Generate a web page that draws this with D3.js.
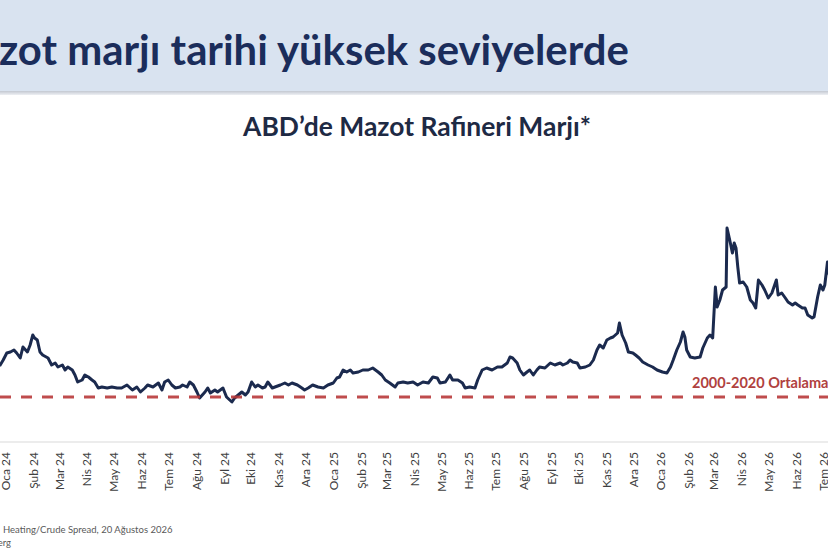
<!DOCTYPE html>
<html>
<head>
<meta charset="utf-8">
<script src="https://cdn.jsdelivr.net/npm/d3@7"></script>
<style>
  html, body { margin: 0; padding: 0; background: #fff; overflow: hidden; }
  svg { display: block; }
</style>
</head>
<body>
<div id="chart"></div>
<script>
// month labels for the x axis (Turkish)
const monthNames = ["Oca", "Şub", "Mar", "Nis", "May", "Haz", "Tem", "Ağu", "Eyl", "Eki", "Kas", "Ara"];

// 2000-2020 average, $/bbl
const averageValue = 24;

// diesel refinery margin
const dates = [
  "2023-12-26","2023-12-30","2024-01-03","2024-01-07","2024-01-11","2024-01-14","2024-01-18","2024-01-21","2024-01-26","2024-01-29",
  "2024-02-01","2024-02-03","2024-02-06","2024-02-09","2024-02-12","2024-02-18","2024-02-22","2024-02-26","2024-02-29","2024-03-05",
  "2024-03-08","2024-03-11","2024-03-16","2024-03-19","2024-03-22","2024-03-27","2024-03-30","2024-04-03","2024-04-07","2024-04-10",
  "2024-04-14","2024-04-18","2024-04-24","2024-04-29","2024-05-05","2024-05-10","2024-05-16","2024-05-22","2024-05-27","2024-05-31",
  "2024-06-05","2024-06-08","2024-06-14","2024-06-20","2024-06-24","2024-06-27","2024-07-01","2024-07-05","2024-07-09","2024-07-14",
  "2024-07-17","2024-07-22","2024-07-25","2024-07-29","2024-08-02","2024-08-05","2024-08-11","2024-08-14","2024-08-17","2024-08-22",
  "2024-08-25","2024-08-31","2024-09-04","2024-09-10","2024-09-13","2024-09-17","2024-09-21","2024-09-25","2024-09-28","2024-10-02",
  "2024-10-06","2024-10-09","2024-10-14","2024-10-17","2024-10-20","2024-10-25","2024-10-28","2024-11-03","2024-11-08","2024-11-12",
  "2024-11-16","2024-11-22","2024-11-27","2024-11-30","2024-12-04","2024-12-09","2024-12-15","2024-12-21","2024-12-26","2025-01-01",
  "2025-01-05","2025-01-08","2025-01-12","2025-01-16","2025-01-20","2025-01-23","2025-01-29","2025-02-03","2025-02-09","2025-02-14",
  "2025-02-20","2025-02-24","2025-02-28","2025-03-05","2025-03-11","2025-03-14","2025-03-20","2025-03-25","2025-03-31","2025-04-05",
  "2025-04-11","2025-04-17","2025-04-22","2025-04-27","2025-04-30","2025-05-06","2025-05-11","2025-05-14","2025-05-20","2025-05-25",
  "2025-05-28","2025-06-02","2025-06-08","2025-06-11","2025-06-16","2025-06-21","2025-06-27","2025-07-03","2025-07-08","2025-07-14",
  "2025-07-17","2025-07-20","2025-07-25","2025-07-28","2025-08-01","2025-08-05","2025-08-08","2025-08-12","2025-08-16","2025-08-19",
  "2025-08-25","2025-08-31","2025-09-05","2025-09-11","2025-09-14","2025-09-19","2025-09-22","2025-09-25","2025-09-30","2025-10-03",
  "2025-10-09","2025-10-14","2025-10-18","2025-10-22","2025-10-25","2025-10-29","2025-11-02","2025-11-06","2025-11-09","2025-11-14",
  "2025-11-16","2025-11-19","2025-11-23","2025-11-26","2025-12-01","2025-12-04","2025-12-08","2025-12-12","2025-12-18","2025-12-23",
  "2025-12-28","2026-01-03","2026-01-08","2026-01-12","2026-01-15","2026-01-19","2026-01-23","2026-01-26","2026-01-28","2026-01-30",
  "2026-02-03","2026-02-08","2026-02-14","2026-02-17","2026-02-22","2026-02-25","2026-02-28","2026-03-03","2026-03-05","2026-03-08",
  "2026-03-11","2026-03-15","2026-03-16","2026-03-19","2026-03-22","2026-03-24","2026-03-26","2026-03-28","2026-03-30","2026-04-03",
  "2026-04-07","2026-04-11","2026-04-14","2026-04-17","2026-04-20","2026-04-24","2026-04-27","2026-05-01","2026-05-05","2026-05-10",
  "2026-05-12","2026-05-16","2026-05-20","2026-05-23","2026-05-28","2026-05-31","2026-06-03","2026-06-08","2026-06-11","2026-06-14",
  "2026-06-19","2026-06-21","2026-06-25","2026-06-28","2026-07-01","2026-07-03","2026-07-06","2026-07-08"
];
const margins = [
  30.2,31.4,32.8,33.0,33.4,32.8,31.8,34.0,33.0,34.4,
  36.4,35.8,35.4,33.0,32.4,31.8,30.4,30.8,30.0,30.4,
  29.4,30.0,29.4,28.4,27.0,27.4,28.4,28.0,27.4,27.0,
  25.8,26.0,25.8,26.0,25.8,25.8,26.4,25.4,26.0,25.0,
  25.8,26.4,26.0,26.8,25.4,27.0,27.4,26.4,25.8,26.0,
  26.4,26.0,27.0,26.4,25.0,23.8,25.0,25.8,24.8,25.4,
  25.0,25.8,24.0,23.0,23.8,24.4,25.0,24.4,25.0,27.0,
  26.0,26.4,25.8,26.0,27.0,25.8,26.0,26.4,26.8,26.4,
  26.8,26.4,25.8,25.4,25.8,26.4,26.0,25.8,26.4,26.8,
  27.8,28.0,29.4,29.0,29.4,28.8,29.0,29.4,29.4,29.8,
  29.0,28.4,27.4,26.8,26.0,26.8,27.0,26.8,27.0,26.4,
  27.0,26.8,28.0,27.8,26.8,27.0,28.4,27.4,27.4,26.8,
  25.8,26.0,25.8,27.4,29.4,29.8,29.4,30.0,30.0,30.8,
  32.0,31.8,30.8,29.4,28.4,29.0,29.4,28.4,29.4,30.0,
  29.8,30.8,30.4,30.8,30.4,30.8,31.4,31.0,30.8,29.8,
  30.0,30.4,31.4,33.4,34.4,33.8,35.4,35.8,36.0,36.8,
  38.8,36.4,34.8,33.0,32.8,32.4,31.8,31.0,30.4,30.0,
  29.4,29.0,28.8,30.0,31.4,33.4,35.0,37.0,36.0,33.4,
  32.0,31.8,32.0,33.8,35.8,36.4,35.8,46.0,42.0,43.4,
  45.4,46.0,57.8,55.4,52.8,54.8,53.8,50.0,46.8,47.0,
  46.0,43.4,42.8,41.8,47.4,46.4,45.4,43.8,44.8,47.4,
  44.4,44.8,43.8,43.0,42.4,42.8,42.4,41.8,41.8,40.4,
  39.8,40.0,44.0,46.4,45.4,46.4,51.0,48.4
];

const W = 828, H = 552;
const parseDate = d3.timeParse("%Y-%m-%d");
const data = dates.map((d, i) => ({date: parseDate(d), value: margins[i]}));
const font = "Lato, 'Open Sans', sans-serif";

const svg = d3.select("#chart")
    .append("svg")
        .attr("width", W)
        .attr("height", H);

// title band
const grad = svg.append("defs").append("linearGradient")
    .attr("id", "shadow")
    .attr("x1", 0).attr("y1", 0).attr("x2", 0).attr("y2", 1);
grad.append("stop").attr("offset", "0%").attr("stop-color", "#c3c8d1");
grad.append("stop").attr("offset", "100%").attr("stop-color", "#eef0f4");

svg.append("rect")
    .attr("x", 0).attr("y", 0)
    .attr("width", W).attr("height", 91)
    .attr("fill", "#d9e3f0");
svg.append("rect")
    .attr("x", 0).attr("y", 91)
    .attr("width", W).attr("height", 4)
    .attr("fill", "url(#shadow)");

// slide title, left part is cut off like in the slide
const title = svg.append("text")
    .attr("y", 65)
    .attr("font-family", font)
    .attr("font-weight", "bold")
    .attr("font-size", 38)
    .attr("fill", "#1b2d5b")
    .text("Mazot marjı tarihi yüksek seviyelerde");
{
    const node = title.node();
    const visible = node.getSubStringLength(2, node.getNumberOfChars() - 2);
    title.attr("font-size", 38 * 630 / visible);
    const cut = node.getSubStringLength(0, 2);
    title.attr("x", -cut - 1);
}

// chart title
const sub = svg.append("text")
    .attr("x", 417)
    .attr("y", 136)
    .attr("text-anchor", "middle")
    .attr("font-family", font)
    .attr("font-weight", "bold")
    .attr("font-size", 21)
    .attr("fill", "#1e2a44")
    .text("ABD’de Mazot Rafineri Marjı*");
{
    const w = sub.node().getComputedTextLength();
    sub.attr("font-size", 21 * 348 / w);
}

// scales
const x = d3.scaleTime()
    .domain([parseDate("2024-01-01"), parseDate("2026-07-01")])
    .range([5, 823]);

const y = d3.scaleLinear()
    .domain([15, 75])
    .range([442, 142]);

// x axis
const ticks = d3.timeMonth.range(parseDate("2024-01-01"), parseDate("2026-07-02"));
const xAxis = svg.append("g")
    .attr("transform", `translate(0, ${y(15)})`)
    .call(d3.axisBottom(x)
        .tickValues(ticks)
        .tickSize(0)
        .tickFormat(d => monthNames[d.getMonth()] + " " + String(d.getFullYear()).slice(2)));

xAxis.select(".domain").remove();
xAxis.append("line")
    .attr("x1", 0).attr("x2", W)
    .attr("stroke", "#d9d9d9")
    .attr("stroke-width", 1.2);

xAxis.selectAll("text")
    .attr("transform", "rotate(-90)")
    .attr("x", -10)
    .attr("y", 0)
    .attr("dy", "0.35em")
    .style("text-anchor", "end")
    .style("font-family", font)
    .style("font-size", "12px")
    .style("fill", "#404040");

// the series
const line = d3.line()
    .x(d => x(d.date))
    .y(d => y(d.value));

svg.append("path")
    .datum(data)
    .attr("fill", "none")
    .attr("stroke", "#1b2a4e")
    .attr("stroke-width", 3)
    .attr("stroke-linejoin", "round")
    .attr("d", line);

// long term average
svg.append("line")
    .attr("x1", 0)
    .attr("x2", W)
    .attr("y1", y(averageValue))
    .attr("y2", y(averageValue))
    .attr("stroke", "#b8393a")
    .attr("stroke-opacity", 0.9)
    .attr("stroke-width", 2.8)
    .attr("stroke-dasharray", "11,10");

// label runs off the right edge, as on the slide
svg.append("text")
    .attr("x", 692)
    .attr("y", y(averageValue) - 9)
    .attr("font-family", font)
    .attr("font-weight", "bold")
    .attr("font-size", 14.5)
    .attr("fill", "#b0413e")
    .text("2000-2020 Ortalaması");

// source notes
svg.append("text")
    .attr("x", 3)
    .attr("y", 533)
    .attr("font-family", font)
    .attr("font-size", 9.5)
    .attr("fill", "#595959")
    .text("Heating/Crude Spread, 20 Ağustos 2026");

svg.append("text")
    .attr("x", 11)
    .attr("y", 546)
    .attr("text-anchor", "end")
    .attr("font-family", font)
    .attr("font-size", 9.5)
    .attr("fill", "#595959")
    .text("Kaynak: Bloomberg");
</script>
</body>
</html>
